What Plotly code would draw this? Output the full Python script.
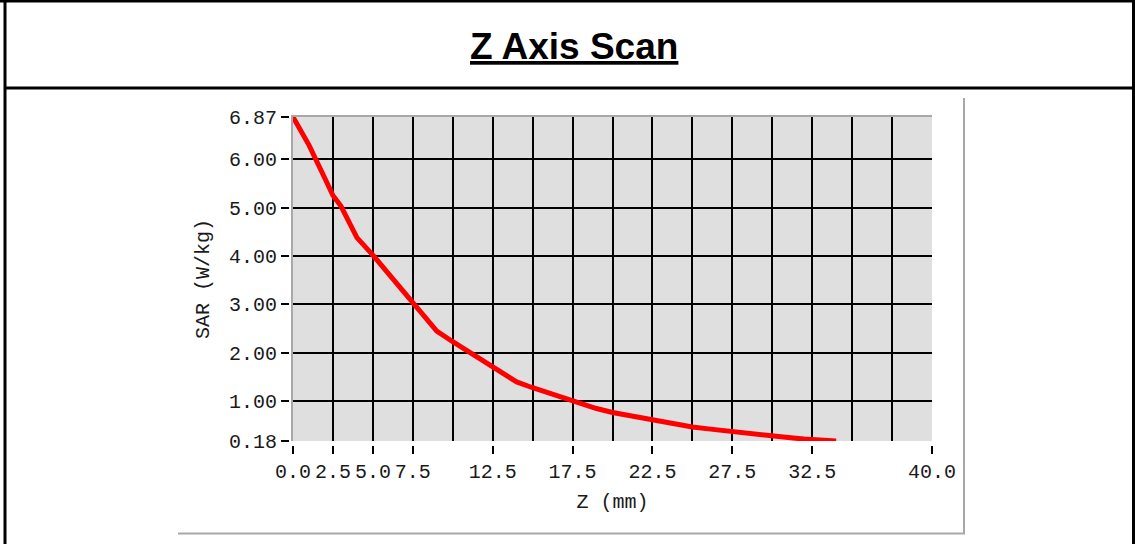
import plotly.graph_objects as go

# ---- data ----
z_mm = [0, 1, 2, 2.5, 3, 4, 5, 6, 7, 8, 9, 10, 11, 12, 13, 14, 15, 16, 17, 18, 19,
        20, 21, 22, 23, 24, 25, 26, 27, 28, 29, 30, 31, 32, 33, 34]
sar_wkg = [6.87, 6.29, 5.60, 5.25, 5.03, 4.38, 4.02, 3.62, 3.22, 2.85, 2.45, 2.23, 2.02,
           1.82, 1.60, 1.40, 1.28, 1.17, 1.05, 0.95, 0.85, 0.77, 0.71, 0.64, 0.58, 0.52,
           0.47, 0.43, 0.39, 0.35, 0.31, 0.28, 0.25, 0.22, 0.20, 0.18]
x_ticks = [0.0, 2.5, 5.0, 7.5, 12.5, 17.5, 22.5, 27.5, 32.5, 40.0]
y_ticks = [0.18, 1.00, 2.00, 3.00, 4.00, 5.00, 6.00, 6.87]
x_range = [0, 40]
y_range = [0.18, 6.87]
title_text = "Z Axis Scan"
x_title = "Z (mm)"
y_title = "SAR (W/kg)"

W, H = 1135, 544
def px(x):
    return x / W
def py(y):
    return (H - y) / H

x_dom = [px(293), px(932)]
y_dom = [py(441), py(117)]

tick_font = dict(family="Liberation Mono, DejaVu Sans Mono, monospace", size=20, color="#1a1a1a")

fig = go.Figure()
# main curve on the gridded axes
fig.add_trace(go.Scatter(x=z_mm, y=sar_wkg, mode="lines", xaxis="x", yaxis="y",
                         line=dict(color="#ff0000", width=5), showlegend=False,
                         hoverinfo="skip"))
# transparent copy so the offset tick axes are drawn
fig.add_trace(go.Scatter(x=z_mm, y=sar_wkg, mode="lines", xaxis="x2", yaxis="y2",
                         line=dict(color="rgba(0,0,0,0)", width=0), showlegend=False,
                         hoverinfo="skip"))

fig.update_layout(
    width=W, height=H,
    margin=dict(l=0, r=0, t=0, b=0, pad=0, autoexpand=False),
    paper_bgcolor="white",
    plot_bgcolor="#dfdfdf",
    showlegend=False,
    xaxis=dict(domain=x_dom, range=x_range, side="top", anchor="y",
               showline=True, linecolor="#a8a8a8", linewidth=2,
               showgrid=True, gridcolor="#000000", gridwidth=2, dtick=2.5, tick0=0,
               showticklabels=False, ticks="", zeroline=False, fixedrange=True,
               automargin=False),
    yaxis=dict(domain=y_dom, range=y_range, anchor="x",
               showline=True, linecolor="#a8a8a8", linewidth=2,
               showgrid=True, gridcolor="#000000", gridwidth=2, dtick=1, tick0=0,
               showticklabels=False, ticks="", zeroline=False, fixedrange=True,
               automargin=False),
    xaxis2=dict(domain=x_dom, range=x_range, overlaying="x", anchor="free",
                position=py(445), side="bottom",
                tickmode="array", tickvals=x_ticks, ticktext=[f"{v:.1f}" for v in x_ticks],
                ticks="outside", ticklen=8, tickwidth=2, tickcolor="#000000",
                tickangle=0, tickfont=tick_font, showgrid=False, zeroline=False,
                showline=False, fixedrange=True, automargin=False,
                title=dict(text=x_title, font=tick_font, standoff=10)),
    yaxis2=dict(domain=y_dom, range=y_range, overlaying="y", anchor="free",
                position=px(289), side="left",
                tickmode="array", tickvals=y_ticks, ticktext=[f"{v:.2f}" for v in y_ticks],
                ticks="outside", ticklen=8, tickwidth=2, tickcolor="#000000",
                tickfont=tick_font, showgrid=False, zeroline=False,
                showline=False, fixedrange=True, automargin=False,
                title=dict(text=y_title, font=tick_font, standoff=12)),
)

# frame of the table-like layout
black = "#000000"
shapes = [
    dict(type="line", xref="paper", yref="paper", x0=px(5), x1=px(5), y0=0, y1=1,
         line=dict(color=black, width=3)),
    dict(type="line", xref="paper", yref="paper", x0=px(1133.5), x1=px(1133.5), y0=0, y1=1,
         line=dict(color=black, width=3)),
    dict(type="line", xref="paper", yref="paper", x0=0, x1=1, y0=py(1), y1=py(1),
         line=dict(color=black, width=3)),
    dict(type="line", xref="paper", yref="paper", x0=px(4), x1=1, y0=py(88), y1=py(88),
         line=dict(color=black, width=3)),
    # picture frame of the chart image
    dict(type="line", xref="paper", yref="paper", x0=px(964), x1=px(964), y0=py(98), y1=py(534),
         line=dict(color="#a8a8a8", width=2)),
    dict(type="line", xref="paper", yref="paper", x0=px(178), x1=px(965), y0=py(533.5), y1=py(533.5),
         line=dict(color="#a8a8a8", width=2)),
]
fig.update_layout(shapes=shapes)

fig.add_annotation(
    text=title_text, xref="paper", yref="paper", x=px(574), y=py(46),
    xanchor="center", yanchor="middle", showarrow=False,
    font=dict(family="Liberation Sans, Arial, sans-serif", size=37, color="#000000",
              weight="bold", lineposition="under"),
)

fig.write_html(
    "out.html",
    config={"displayModeBar": False, "staticPlot": True},
    post_script="document.body.style.margin='0px';document.body.style.overflow='hidden';",
)
